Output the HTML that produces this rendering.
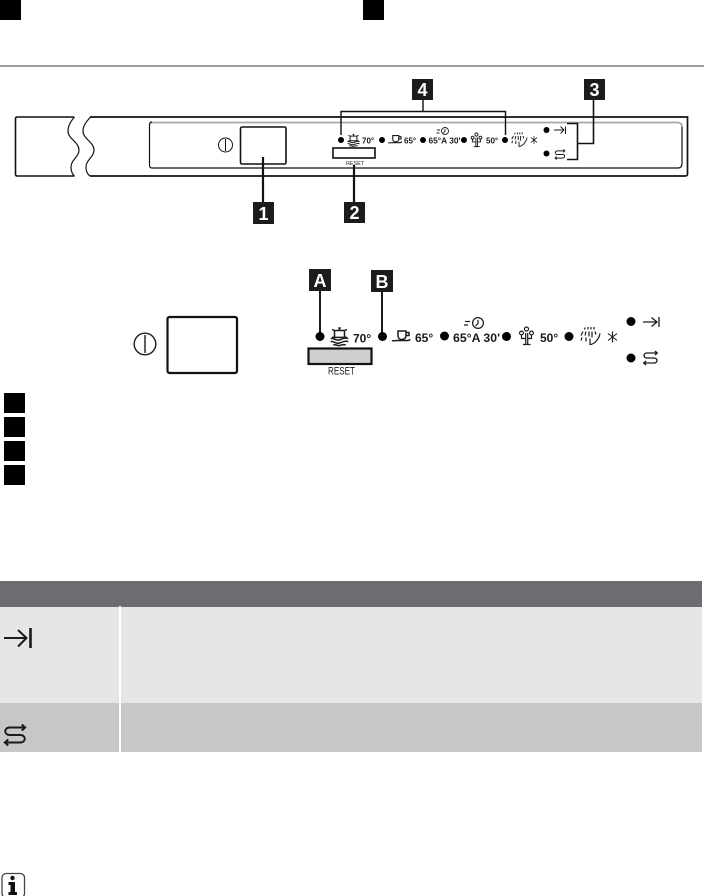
<!DOCTYPE html>
<html><head><meta charset="utf-8"><style>
html,body{margin:0;padding:0;background:#fff}
svg{display:block}
text{font-family:"Liberation Sans",sans-serif;fill:#1a1a1a}
.lab{font-weight:bold;fill:#fff;text-anchor:middle}
</style></head><body>
<svg width="704" height="896" viewBox="0 0 704 896" xmlns="http://www.w3.org/2000/svg">
<defs>
<g id="pot" fill="none" stroke="#1a1a1a" stroke-width="1.200">
 <path d="M-4.500-4H4.500M-4-4V1.500M4-4V1.500M-1-6H1M0-6.500V-4M-6-4.500H-4.500M4.500-4.500H6M-6 1.500H6"/>
 <path d="M-7 2.500C-5 1.500-3 4.500 0 3.500C3 2.500 5 1.500 7 2.500M-7 5C-5 4-3 7 0 6C3 5 5 4 7 5M-5 7.500C-3 7-1 8.500 0 8C2 7.500 3 7 5 7.500"/>
</g>
<g id="cup" fill="none" stroke="#1a1a1a" stroke-width="1.500">
 <path d="M-3-6H5V-1C5 1 3 2.500 1 2.500C-1.500 2.500-3 1-3-1ZM5-4.500H8V-1.500H5M-9 3.500C-7 4.500-6 3.500-5 3.500H5C7 3.500 8 4 9 2"/>
</g>
<g id="person" fill="none" stroke="#1a1a1a" stroke-width="1.200">
 <circle cx="0" cy="-7" r="2"/><circle cx="-5" cy="-3" r="1.900"/><circle cx="5" cy="-3" r="1.900"/>
 <path d="M-.8 -3V8M1.200 -3V8M-5 -1V2.500H-.8M5 -1V2.500H1.200M-3.500 8.500H4"/>
</g>
<g id="shower" fill="none" stroke="#1a1a1a" stroke-width="1.200">
 <path d="M-5-9L-5.500-7M-2-9.500L-2-7M1-9.500L1-7M4-9.500L4-7M-7-5L-9-1M-4-5L-5-1M-1-5V0M2-5V1M5-5L6-2M-8 1L-9 4M-4 1L-4 5M0 2L0 8C4 8 9 3 10-3"/>
</g>
<g id="star" fill="none" stroke="#1a1a1a" stroke-width="1.100">
 <path d="M0-5.500V5.500M-4.500-3.500L4.500 3.500M-4.500 3.500L4.500-3.500"/>
</g>
<g id="loop" fill="none" stroke="#1a1a1a" stroke-width="1.300">
 <path d="M6.500-5H-3.500C-7.500-5-7.500 0-3.500 0H3.500C7.500 0 7.500 5 3.500 5H-6.500M4.500-7L6.800-5L4.500-3M-4.500 3L-6.800 5L-4.500 7"/>
</g>
</defs>

<!-- top -->
<rect x="0" y="0" width="21" height="20" fill="#000"/>
<rect x="363" y="0" width="21" height="20" fill="#000"/>
<rect x="0" y="65" width="704" height="2" fill="#9c9c9c"/>

<!-- top panel -->
<g fill="none" stroke="#111">
 <path d="M74 117H17Q15.500 117 15.500 119V174Q15.500 176 17 176H74.500" stroke-width="1.600"/>
 <path d="M74.500 117C70 122 68 126 68 131C68 139 79 142 79 150C79 157 71 160 71 167C71 171 72 174 74.500 176" stroke-width="1.200"/>
 <path d="M90.500 117C86 122 83 126 83 131C83 139 94 142 94 150C94 157 86 160 86 167C86 171 87 174 90 176" stroke-width="1.200"/>
 <path d="M90 117H687.500V174Q687.500 176 685 176H90" stroke-width="1.700"/>
 <path d="M150 122.500H677Q682 122.500 682 127" stroke="#a8a8a8" stroke-width="1.800"/>
 <path d="M152 122Q149.500 122 149.500 125V165Q149.500 168 152 168H678Q682 168 682 163V127" stroke-width="1.200"/>
 <rect x="240.500" y="127" width="45.500" height="37" rx="1.500" stroke-width="1.600"/>
 <circle cx="225.500" cy="145" r="7" stroke-width="1"/>
 <path d="M225.500 139V151" stroke-width="1"/>
 <rect x="333" y="148" width="42" height="10" stroke-width="1.600"/>
 <path d="M263 157V203M354 165V203" stroke-width="2.200"/>
 <path d="M341 135V111.500H505.500V135M423 100V111.500" stroke-width="1.400"/>
 <path d="M593.500 100V143.500H577.500M567 123.500H577.500V159.500H567" stroke-width="1.600"/>
</g>
<text x="355" y="165" font-size="5.500" text-anchor="middle" textLength="18" lengthAdjust="spacingAndGlyphs">RESET</text>
<g fill="#000">
 <circle cx="341" cy="140" r="3"/><circle cx="382" cy="140" r="3"/><circle cx="423" cy="140" r="3"/>
 <circle cx="464" cy="140" r="3"/><circle cx="505" cy="140" r="3"/><circle cx="546.500" cy="130" r="3"/><circle cx="546.500" cy="153.500" r="3"/>
</g>
<use href="#pot" transform="translate(353.500 139.500) scale(.85)"/>
<use href="#cup" transform="translate(395 140) scale(.75)"/>
<use href="#person" transform="translate(476.500 140) scale(.78)"/>
<use href="#shower" transform="translate(519 140) scale(.8)"/>
<use href="#star" transform="translate(534 140) scale(.7)"/>
<g font-size="8" font-weight="bold">
 <text x="362" y="143.500">70°</text>
 <text x="404" y="143.500">65°</text>
 <text x="428.500" y="143.500" textLength="32" lengthAdjust="spacingAndGlyphs">65°A 30'</text>
 <text x="486" y="143.500">50°</text>
</g>
<g fill="none" stroke="#1a1a1a" stroke-width=".9">
 <circle cx="445" cy="131" r="3.500"/><path d="M445 129V131L443.500 133M437 130H440M436.500 133H439.500"/>
 <path d="M554 130H564M560.500 126.500L564 130L560.500 133.500M565.500 126.500V134" stroke-width="1"/>
</g>
<use href="#loop" transform="translate(560 154.500) scale(.72)"/>

<!-- black labels -->
<rect x="253" y="202" width="21" height="22" fill="#1c1c1c"/><text class="lab" x="263.500" y="220" font-size="18">1</text>
<rect x="344" y="202" width="21" height="21" fill="#1c1c1c"/><text class="lab" x="354.500" y="219" font-size="18">2</text>
<rect x="584" y="79" width="21" height="21" fill="#1c1c1c"/><text class="lab" x="594.500" y="96" font-size="18">3</text>
<rect x="412" y="79" width="21" height="21" fill="#1c1c1c"/><text class="lab" x="422.500" y="96" font-size="18">4</text>
<rect x="309" y="269" width="22" height="22" fill="#1c1c1c"/><text class="lab" x="320" y="287" font-size="18">A</text>
<rect x="371" y="270" width="22" height="22" fill="#1c1c1c"/><text class="lab" x="382" y="288" font-size="18">B</text>

<!-- lower panel -->
<rect x="167.500" y="317" width="69.500" height="56" rx="2" fill="none" stroke="#111" stroke-width="2.200"/>
<circle cx="145" cy="344" r="10.800" fill="none" stroke="#1a1a1a" stroke-width="1.400"/>
<path d="M145 335V353" stroke="#1a1a1a" stroke-width="1.400"/>
<path d="M320 291V336M382 292V336" stroke="#1a1a1a" stroke-width="2"/>
<rect x="308.500" y="348.500" width="63" height="15.500" fill="#cfcfcf" stroke="#111" stroke-width="2.200"/>
<text x="341.500" y="374.500" font-size="11" text-anchor="middle" textLength="27" lengthAdjust="spacingAndGlyphs">RESET</text>
<g fill="#000">
 <circle cx="320" cy="336.500" r="4.500"/><circle cx="382.500" cy="336.500" r="4.500"/><circle cx="444.500" cy="336" r="4.500"/>
 <circle cx="506.500" cy="336.500" r="4.500"/><circle cx="569" cy="336.500" r="4.500"/><circle cx="631" cy="321.500" r="4.500"/><circle cx="631" cy="358" r="4.500"/>
</g>
<use href="#pot" transform="translate(339.500 335.500) scale(1.250)"/>
<use href="#cup" transform="translate(401 337)"/>
<use href="#person" transform="translate(526.500 336)"/>
<use href="#shower" transform="translate(590 336.500)"/>
<use href="#star" transform="translate(612.500 337)"/>
<g font-size="12" font-weight="bold">
 <text x="353" y="342.500">70°</text>
 <text x="415" y="342">65°</text>
 <text x="453" y="342" textLength="47" lengthAdjust="spacingAndGlyphs">65°A 30'</text>
 <text x="540" y="342">50°</text>
</g>
<g fill="none" stroke="#1a1a1a" stroke-width="1.200">
 <circle cx="478" cy="323" r="5.400"/><path d="M478 320V323.500L475.500 326M465 321.500H470M464 325H468"/>
 <path d="M643 322H657M651.500 317.500L657 322L651.500 326.500M659 317V327" stroke-width="1.300"/>
</g>
<use href="#loop" transform="translate(650.500 358)"/>

<!-- legend squares -->
<rect x="4" y="393" width="21" height="20" fill="#000"/>
<rect x="4" y="417" width="21" height="20" fill="#000"/>
<rect x="4" y="441" width="21" height="20" fill="#000"/>
<rect x="4" y="465" width="21" height="20" fill="#000"/>

<!-- table -->
<rect x="0" y="581" width="702" height="26" fill="#6c6d70"/>
<rect x="0" y="607" width="702" height="96" fill="#e6e6e8"/>
<rect x="0" y="703" width="702" height="49" fill="#c6c7c9"/>
<rect x="119" y="606" width="2" height="146" fill="#fff"/>
<g fill="none" stroke="#1a1a1a" stroke-width="2">
 <path d="M4 638H26M18 630L26.500 638L18 646.500"/>
 <path d="M30.500 628V648" stroke-width="2.600"/>
</g>
<use href="#loop" transform="translate(15 735) scale(1.500)"/>

<!-- info icon -->
<rect x="2" y="873.500" width="22.500" height="24" rx="4" fill="#fff" stroke="#444" stroke-width="1.300"/>
<circle cx="12.500" cy="878" r="2.200" fill="#111"/>
<path d="M8.500 882H15V892H17V895H8.500V892H10.500V885H8.500Z" fill="#111"/>
</svg>
</body></html>
